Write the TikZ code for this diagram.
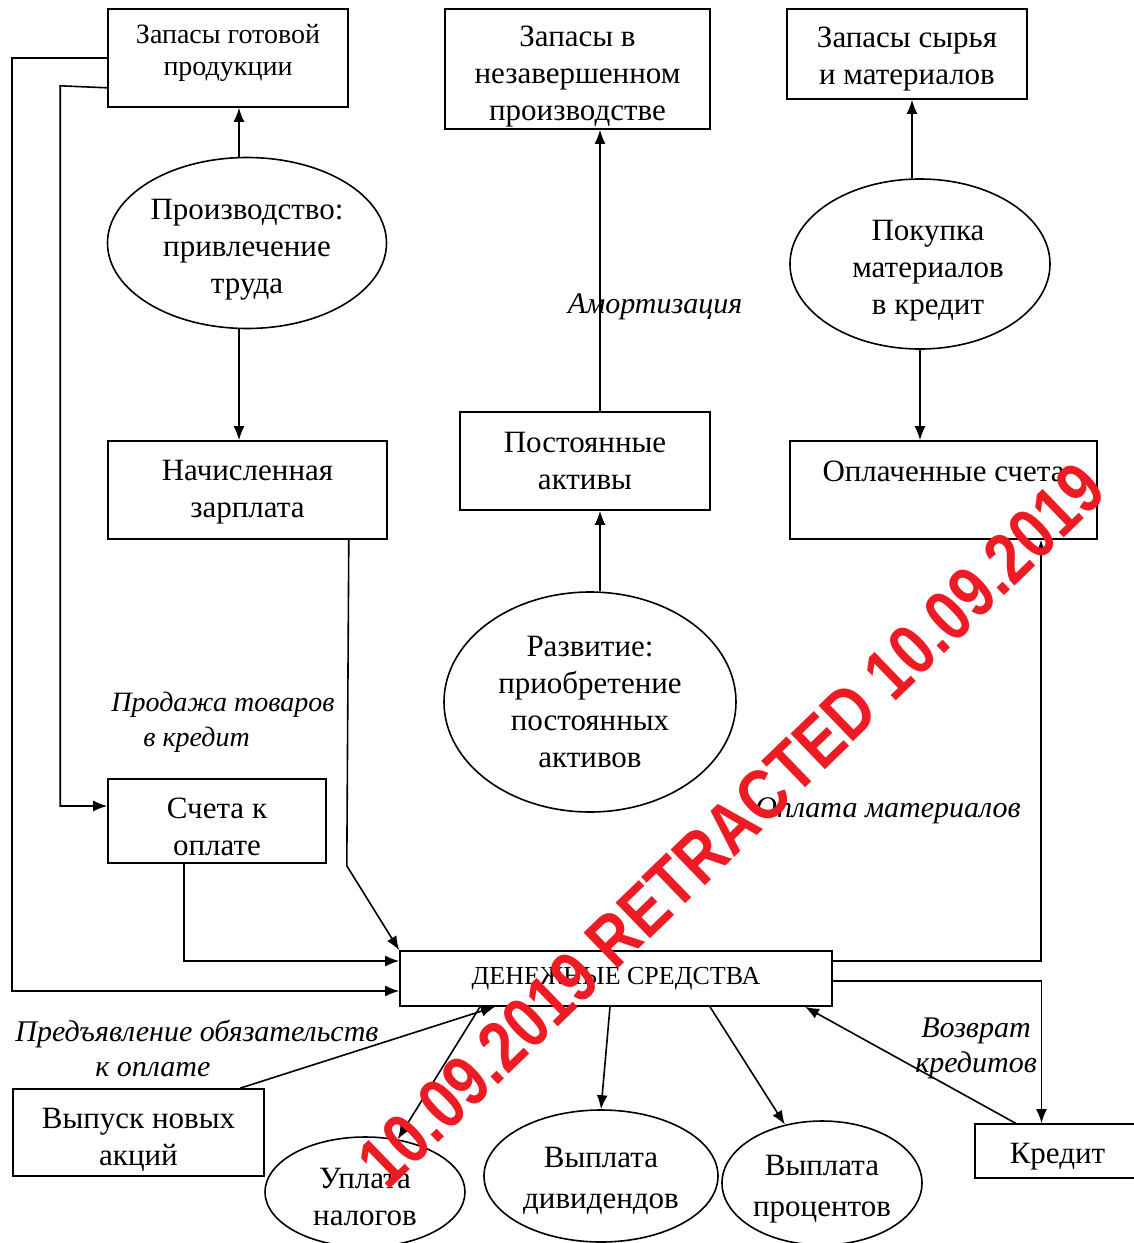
\documentclass[tikz,border=0pt]{standalone}
\usepackage{fontspec}
\setmainfont{Liberation Serif}
\newfontfamily\stampfont{Liberation Sans}
\usepackage{tikz}
\usetikzlibrary{shapes}
\usetikzlibrary{arrows.meta}
\definecolor{stampred}{RGB}{237,28,36}
\newcommand{\lift}[1]{\rule{0pt}{#1}}
\tikzset{
	box node/.style={rectangle,draw,align=center,inner sep=2pt,font=\fontsize{15.5}{18.5}\selectfont},
	oval node/.style={ellipse,draw,align=center,inner sep=0pt,font=\fontsize{15.5}{18.5}\selectfont},
	flow label/.style={align=center,font=\itshape\fontsize{15}{17.5}\selectfont}
}

\begin{document}
\begin{tikzpicture}[->,>={Latex[length=7pt,width=5.5pt]},x=0.5pt,y=-0.5pt,line width=0.8pt]
            \useasboundingbox (0,0) rectangle (1134,1243);
            % stocks
            \node [box node,font=\fontsize{14}{16}\selectfont,minimum width=120pt,minimum height=49pt] (zgp) at (228,58) {Запасы готовой\\продукции\rule[-8pt]{0pt}{0pt}};
            \node [box node,inner ysep=0pt,minimum width=132.5pt,minimum height=60pt] (znp) at (577.5,69) {\lift{18pt}Запасы в\\незавершенном\\производстве};
            \node [box node,minimum width=120pt,minimum height=45pt] (zsm) at (907,54) {\lift{15.3pt}Запасы сырья\\и материалов};
            \node [oval node,minimum width=139.5pt,minimum height=85.5pt] (pr) at (247,243) {\lift{17.3pt}Производство:\\привлечение\\труда};
            \node [oval node,minimum width=130pt,minimum height=85pt] (pm) at (920,264) {\lift{16.3pt}\hspace*{8pt}Покупка\\\hspace*{8pt}материалов\\\hspace*{8pt}в кредит};
            \node [box node,minimum width=139.5pt,minimum height=49pt] (nz) at (247.5,490) {\lift{12.3pt}Начисленная\\зарплата};
            \node [box node,minimum width=125pt,minimum height=49pt] (pa) at (585,461) {Постоянные\\активы};
            \node [box node,minimum width=153.5pt,minimum height=49pt] (os) at (943.5,490) {Оплаченные счета\\ \mbox{}};
            \node [oval node,minimum width=146pt,minimum height=110pt] (rz) at (590,702) {Развитие:\\приобретение\\постоянных\\активов};
            \node [box node,minimum width=109pt,minimum height=42pt] (sko) at (217,821) {\lift{16.3pt}Счета к\\оплате};
            % cash
            \node [box node,font=\fontsize{13}{15}\selectfont,minimum width=216pt,minimum height=27.5pt] (ds) at (616,978.5) {ДЕНЕЖНЫЕ СРЕДСТВА};
            \node [box node,minimum width=125.5pt,minimum height=43.5pt] (vna) at (138.5,1132.5) {\lift{17.3pt}Выпуск новых\\акций};
            \node [box node,minimum width=82.5pt,minimum height=27pt] (kr) at (1057.5,1151) {\lift{15.3pt}Кредит};
            \node [oval node,minimum width=100pt,minimum height=55pt] (un) at (365,1192) {\lift{15.3pt}Уплата\\налогов};
            \node [oval node,font=\fontsize{15.5}{20.5}\selectfont,minimum width=117pt,minimum height=66pt] (vd) at (601,1176) {\lift{15.3pt}Выплата\\дивидендов};
            \node [oval node,font=\fontsize{15.5}{20.5}\selectfont,minimum width=100pt,minimum height=62pt] (vp) at (822,1183) {\lift{16.3pt}Выплата\\процентов};
            % labels
            \node [flow label] (am) at (655,307) {Амортизация};
            \node [flow label,font=\itshape\fontsize{14}{17.5}\selectfont,align=left,anchor=west] (pt) at (104,722) {Продажа товаров\\\hspace*{16pt}в кредит};
            \node [flow label] (om) at (888,811) {Оплата материалов};
            \node [flow label,align=left,anchor=west] (po) at (8,1048) {Предъявление обязательств\\\hspace*{40pt}к оплате};
            \node [flow label] (vk) at (976,1048) {Возврат\\кредитов};
            % connectors
            \coordinate (prn) at ([xshift=-4pt]pr.north);
            \coordinate (prs) at ([xshift=-4pt]pr.south);
            \coordinate (pax) at ([xshift=7.5pt]pa.north);
            \coordinate (pbx) at ([xshift=7.5pt]pa.south);
            \coordinate (pmn) at ([xshift=-4pt]pm.north);
            \draw (prn) -- (prn |- zgp.south);
            \draw (prs) -- (prs |- nz.north);
            \draw (pax) -- (pax |- znp.south);
            \draw (pbx |- rz.north) -- (pbx);
            \draw (pmn) -- (pmn |- zsm.south);
            \draw (pm.south) -- (pm.south |- os.north);
            \draw (zgp.west) -- ++(-95,0) |- ([yshift=-6.25pt]ds.west);
            \draw ([yshift=10pt]zgp.south west) -- ++(-47,-2) |- ([yshift=7.5pt]sko.west);
            \draw ([xshift=-19.5pt]nz.south east) -- ++(-2,326) -- (ds.north west);
            \draw ([xshift=-16.5pt]sko.south) |- ([yshift=8.75pt]ds.west);
            \draw ([yshift=8.75pt]ds.east) -| ([xshift=48.75pt]os.south);
            \draw ([yshift=-1.25pt]ds.east) -| ([xshift=-8pt]kr.north);
            \draw ([xshift=-21pt]kr.north) -- ([xshift=94.5pt]ds.south);
            \draw ([xshift=50.75pt]vna.north) -- ([xshift=-60.5pt]ds.south);
            \draw ([xshift=-68pt]ds.south) -- (un);
            \draw ([xshift=-3pt]ds.south) -- (vd.north);
            \draw ([xshift=47pt]ds.south) -- (vp);
            % stamp
            \node [rotate=44,anchor=base,text=stampred,font=\stampfont\bfseries\fontsize{30}{30}\selectfont] (stamp) at (749,843) {\scalebox{1}[1.2]{10.09.2019 RETRACTED 10.09.2019}};
\end{tikzpicture}
\end{document}
